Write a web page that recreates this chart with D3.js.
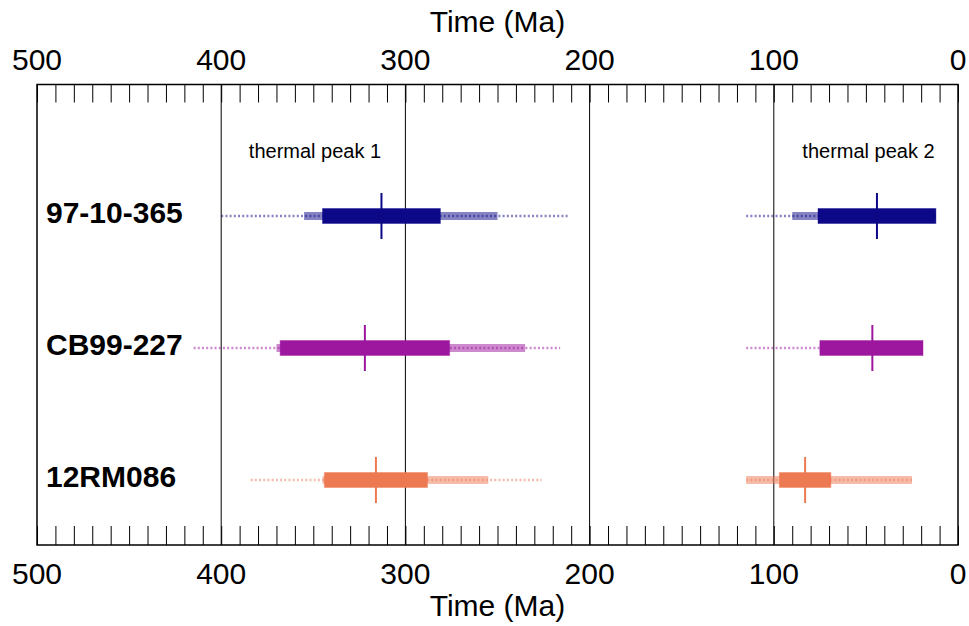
<!DOCTYPE html>
<html>
<head>
<meta charset="utf-8">
<script src="https://cdn.jsdelivr.net/npm/d3@7"></script>
<style>
  body { margin: 0; background: #fff; }
  text { font-family: "Liberation Sans", Arial, sans-serif; }
</style>
</head>
<body>
<div id="chart"></div>
<script>
// samples and colours
var samples = ["97-10-365", "CB99-227", "12RM086"];
var colors = ["#0d0887", "#9c179e", "#ed7953"];

// thermal peak 1 (Ma): [old, young]
var peak1Outer = [[400, 211], [415, 216], [384, 226]];
var peak1Band  = [[355, 250], [370, 235], [345, 255]];
var peak1Box   = [[345, 281], [368, 276], [344, 288]];
var peak1Best  = [313, 322, 316];

// thermal peak 2 (Ma)
var peak2Outer = [[115, 12], [115, 19], [115, 25]];
var peak2Band  = [[90, 12], [75, 19], [115, 25]];
var peak2Box   = [[76, 12], [75, 19], [97, 69]];
var peak2Best  = [44, 46.5, 83];

var majorTicks = [500, 400, 300, 200, 100, 0];
var peakLabels = [{t: 385, text: "thermal peak 1"}, {t: 84.5, text: "thermal peak 2"}];

(function () {
  var width = 969, height = 626;
  var margin = {top: 84.5, right: 11, bottom: 81, left: 37};

  var svg = d3.select("#chart").append("svg")
    .attr("width", width)
    .attr("height", height);

  var x = d3.scaleLinear().domain([500, 0]).range([margin.left, width - margin.right]);
  var y = d3.scalePoint().domain(samples).range([216, 480]);
  var plotTop = margin.top, plotBottom = height - margin.bottom;

  // axes with minor ticks
  var minorTicks = d3.range(0, 501, 10);
  svg.append("g")
    .attr("transform", "translate(0," + plotTop + ")")
    .call(d3.axisBottom(x).tickValues(minorTicks).tickSize(18).tickFormat(""))
    .call(function(g) { g.select(".domain").remove(); g.selectAll("line").attr("stroke", "#000").attr("stroke-width", 1); });
  svg.append("g")
    .attr("transform", "translate(0," + plotBottom + ")")
    .call(d3.axisTop(x).tickValues(minorTicks).tickSize(19).tickFormat(""))
    .call(function(g) { g.select(".domain").remove(); g.selectAll("line").attr("stroke", "#000").attr("stroke-width", 1); });

  // major grid lines
  svg.append("g").selectAll("line")
    .data(majorTicks.slice(1, -1))
    .enter().append("line")
    .attr("x1", function(d) { return x(d); })
    .attr("x2", function(d) { return x(d); })
    .attr("y1", plotTop).attr("y2", plotBottom)
    .attr("stroke", "#000").attr("stroke-width", 1);

  // frame
  svg.append("rect")
    .attr("x", x(500)).attr("y", plotTop)
    .attr("width", x(0) - x(500)).attr("height", plotBottom - plotTop)
    .attr("fill", "none").attr("stroke", "#000").attr("stroke-width", 1.5);

  // tick labels
  [69.5, 583.5].forEach(function(ty) {
    svg.append("g").selectAll("text")
      .data(majorTicks)
      .enter().append("text")
      .attr("x", function(d) { return x(d); })
      .attr("y", ty)
      .attr("text-anchor", "middle")
      .attr("font-size", 30)
      .text(function(d) { return d; });
  });

  // axis titles
  var midX = (x(500) + x(0)) / 2;
  svg.append("text").attr("x", midX).attr("y", 31.5)
    .attr("text-anchor", "middle").attr("font-size", 30).text("Time (Ma)");
  svg.append("text").attr("x", midX).attr("y", 616)
    .attr("text-anchor", "middle").attr("font-size", 30).text("Time (Ma)");

  // peak labels
  svg.append("g").selectAll("text")
    .data(peakLabels)
    .enter().append("text")
    .attr("x", function(d) { return x(d.t); })
    .attr("y", 157.5)
    .attr("font-size", 20)
    .text(function(d) { return d.text; });

  // sample labels
  svg.append("g").selectAll("text")
    .data(samples)
    .enter().append("text")
    .attr("x", 46)
    .attr("y", function(d) { return y(d) + 7; })
    .attr("font-size", 30)
    .attr("font-weight", "bold")
    .text(function(d) { return d; });

  function drawPeak(outer, band, box, best) {
    var g = svg.append("g");
    samples.forEach(function(s, i) {
      var c = colors[i], cy = y(s);
      g.append("rect")
        .attr("x", x(band[i][0])).attr("y", cy - 4)
        .attr("width", x(band[i][1]) - x(band[i][0])).attr("height", 8)
        .attr("fill", c).attr("fill-opacity", 0.5);
      g.append("line")
        .attr("x1", x(outer[i][0])).attr("x2", x(outer[i][1]))
        .attr("y1", cy).attr("y2", cy)
        .attr("stroke", c).attr("stroke-opacity", 0.5)
        .attr("stroke-width", 2.5).attr("stroke-dasharray", "2,2.2");
      g.append("rect")
        .attr("x", x(box[i][0])).attr("y", cy - 7.5)
        .attr("width", x(box[i][1]) - x(box[i][0])).attr("height", 15)
        .attr("fill", c)
        .attr("stroke", c).attr("stroke-opacity", 0.4).attr("stroke-width", 1);
      g.append("line")
        .attr("x1", x(best[i])).attr("x2", x(best[i]))
        .attr("y1", cy - 23).attr("y2", cy + 23)
        .attr("stroke", c).attr("stroke-width", 2);
    });
  }

  drawPeak(peak1Outer, peak1Band, peak1Box, peak1Best);
  drawPeak(peak2Outer, peak2Band, peak2Box, peak2Best);
})();
</script>
</body>
</html>
